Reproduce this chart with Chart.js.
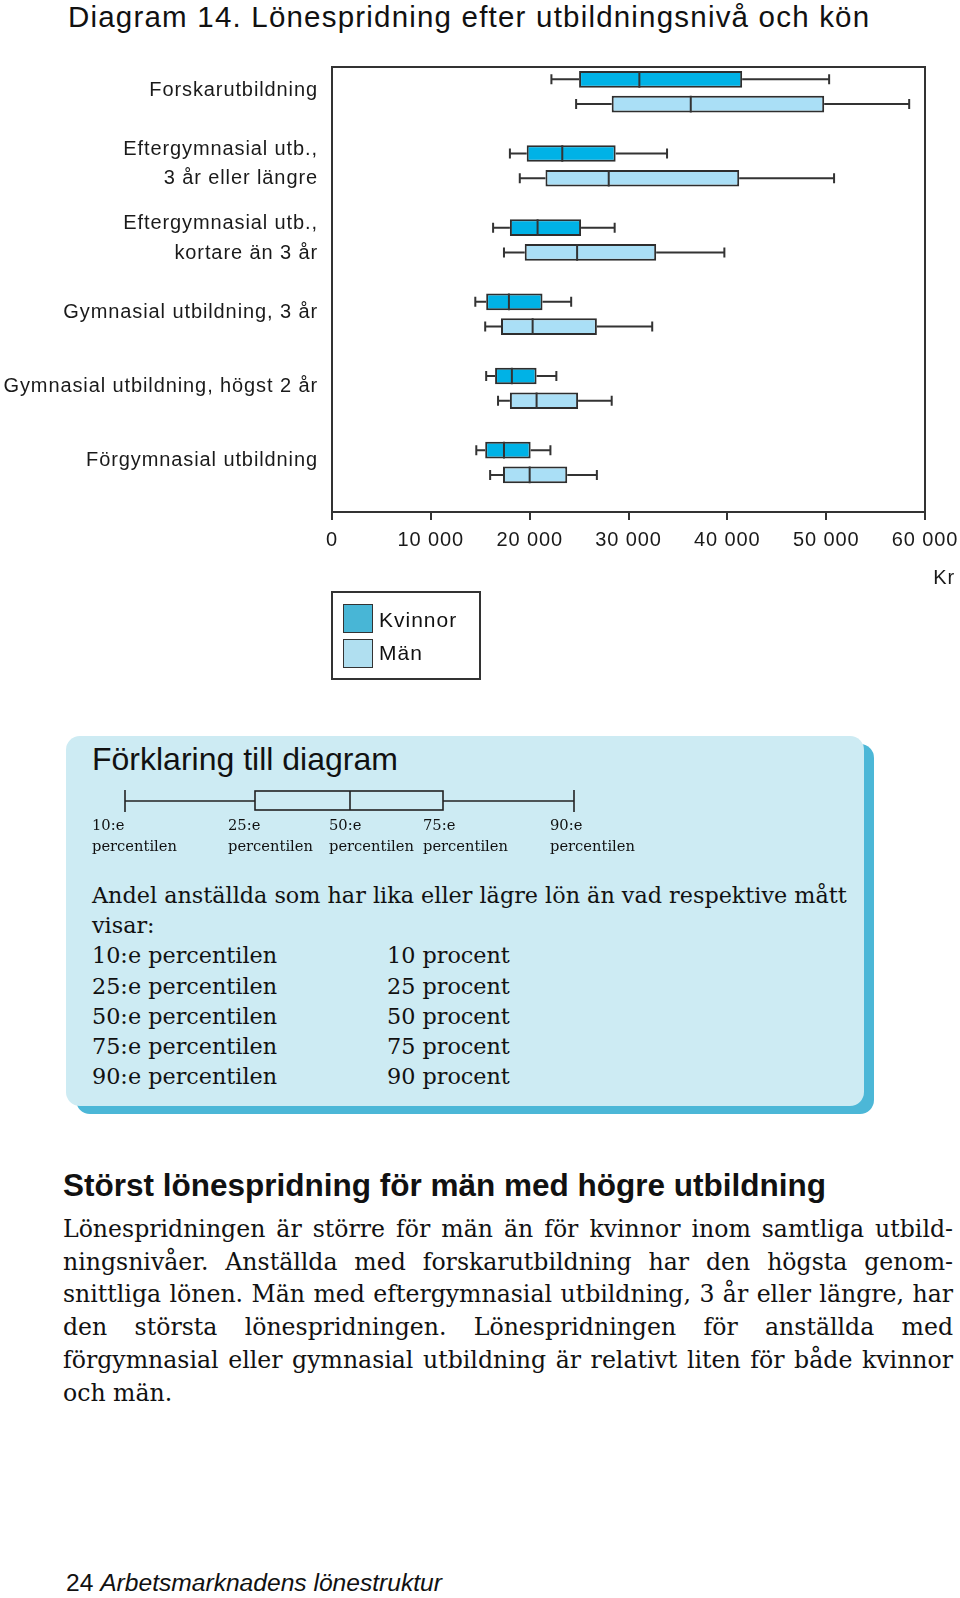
<!DOCTYPE html>
<html lang="sv">
<head>
<meta charset="utf-8">
<script src="https://cdn.jsdelivr.net/npm/chart.js@4.4.1/dist/chart.umd.min.js"></script>
<style>
  body { margin: 0; width: 960px; height: 1598px; position: relative; background: #fff; color: #111;
         font-family: "Liberation Sans", Arial, sans-serif; overflow: hidden; }
  .abs { position: absolute; white-space: nowrap; line-height: 1; }
  .serif { font-family: "DejaVu Serif", serif; }
  #title { left: 68px; top: 2px; font-size: 29.5px; letter-spacing: 1.2px; }
  #chartWrap { position: absolute; left: 0; top: 40px; width: 960px; height: 560px; }
  #legend { position: absolute; left: 331px; top: 591px; width: 150px; height: 89px; box-sizing: border-box;
            border: 2px solid #333; }
  .sw { position: absolute; left: 10px; width: 30px; height: 29px; box-sizing: border-box; border: 1.5px solid #333; }
  .lt { position: absolute; left: 46px; font-size: 21px; letter-spacing: 1px; line-height: 1; }
  #panel { position: absolute; left: 66px; top: 736px; width: 798px; height: 370px; border-radius: 14px;
           background: #cdebf3; box-shadow: 10px 8px 0 #4cb7d7; }
  .pl { position: absolute; font-size: 14.7px; line-height: 21px; white-space: nowrap; }
  #expl { position: absolute; left: 92px; top: 880px; font-size: 22.3px; line-height: 30.2px; }
  #expl2 { position: absolute; left: 387px; top: 940.4px; font-size: 22.3px; line-height: 30.2px; }
  #heading { left: 63px; top: 1170px; font-size: 31.5px; font-weight: bold; }
  #para { position: absolute; left: 63px; top: 1213px; width: 890px; font-size: 23.6px; line-height: 32.7px; }
  #para div { white-space: nowrap; text-align: justify; text-align-last: justify; }
  #para div.last { text-align-last: left; }
  #footer { left: 66px; top: 1571px; font-size: 24.6px; }
</style>
</head>
<body>
<div id="title" class="abs">Diagram 14. Lönespridning efter utbildningsnivå och kön</div>

<div id="chartWrap"><canvas id="boxChart"></canvas></div>

<div id="legend">
  <div class="sw" style="top:11px; background:#48b6d6;"></div>
  <div class="lt" style="top:16px;">Kvinnor</div>
  <div class="sw" style="top:46px; background:#b0dff0;"></div>
  <div class="lt" style="top:49px;">Män</div>
</div>

<div id="panel"></div>
<div class="abs" style="left:92px; top:743px; font-size:32px;">Förklaring till diagram</div>
<svg style="position:absolute; left:0; top:0;" width="960" height="830">
  <g stroke="#222" stroke-width="1.6" fill="none">
    <line x1="125" y1="801" x2="255" y2="801"/>
    <line x1="443" y1="801" x2="574" y2="801"/>
    <line x1="125" y1="790" x2="125" y2="812"/>
    <line x1="574" y1="790" x2="574" y2="812"/>
    <rect x="255" y="791" width="188" height="19"/>
    <line x1="350" y1="791" x2="350" y2="810"/>
  </g>
</svg>
<div class="pl serif" style="left:92px; top:814px;">10:e<br>percentilen</div>
<div class="pl serif" style="left:228px; top:814px;">25:e<br>percentilen</div>
<div class="pl serif" style="left:329px; top:814px;">50:e<br>percentilen</div>
<div class="pl serif" style="left:423px; top:814px;">75:e<br>percentilen</div>
<div class="pl serif" style="left:550px; top:814px;">90:e<br>percentilen</div>
<div id="expl" class="serif">Andel anställda som har lika eller lägre lön än vad respektive mått<br>visar:<br>10:e percentilen<br>25:e percentilen<br>50:e percentilen<br>75:e percentilen<br>90:e percentilen</div>
<div id="expl2" class="serif">10 procent<br>25 procent<br>50 procent<br>75 procent<br>90 procent</div>

<div id="heading" class="abs">Störst lönespridning för män med högre utbildning</div>
<div id="para" class="serif">
  <div>Lönespridningen är större för män än för kvinnor inom samtliga utbild-</div>
  <div>ningsnivåer. Anställda med forskarutbildning har den högsta genom-</div>
  <div>snittliga lönen. Män med eftergymnasial utbildning, 3 år eller längre, har</div>
  <div>den största lönespridningen. Lönespridningen för anställda med</div>
  <div>förgymnasial eller gymnasial utbildning är relativt liten för både kvinnor</div>
  <div class="last">och män.</div>
</div>

<div id="footer" class="abs">24 <i>Arbetsmarknadens lönestruktur</i></div>

<script>
const categories = [
    'Forskarutbildning',
    ['Eftergymnasial utb.,', '3 år eller längre'],
    ['Eftergymnasial utb.,', 'kortare än 3 år'],
    'Gymnasial utbildning, 3 år',
    'Gymnasial utbildning, högst 2 år',
    'Förgymnasial utbildning'
];

// percentiler, kr per månad
const kvinnorP10 = [22200, 18000, 16300, 14500, 15600, 14600];
const kvinnorP25 = [25000, 19700, 18000, 15600, 16500, 15500];
const kvinnorP50 = [31100, 23300, 20800, 17900, 18200, 17400];
const kvinnorP75 = [41500, 28700, 25200, 21300, 20700, 20100];
const kvinnorP90 = [50300, 33900, 28600, 24200, 22700, 22100];

const manP10 = [24700, 19000, 17400, 15500, 16800, 16000];
const manP25 = [28300, 21600, 19500, 17100, 18000, 17300];
const manP50 = [36300, 28000, 24800, 20300, 20700, 20000];
const manP75 = [49800, 41200, 32800, 26800, 24900, 23800];
const manP90 = [58400, 50800, 39700, 32400, 28300, 26800];

const xTickLabels = ['0', '10 000', '20 000', '30 000', '40 000', '50 000', '60 000'];

const axisFont = "'Liberation Sans', Arial, sans-serif";

// whiskers och median ritas ovanpå staplarna (lådorna)
const boxPlotPlugin = {
    id: 'boxPlot',
    afterDatasetsDraw(chart) {
        const ctx = chart.ctx;
        const xScale = chart.scales.x;
        ctx.save();
        ctx.strokeStyle = '#333';
        ctx.lineWidth = 2;
        chart.data.datasets.forEach((ds, di) => {
            if (!ds.median) return;
            const meta = chart.getDatasetMeta(di);
            meta.data.forEach((bar, i) => {
                const { y, height } = bar.getProps(['y', 'height'], true);
                const pLow = xScale.getPixelForValue(ds.low[i]);
                const pQ1 = xScale.getPixelForValue(ds.data[i][0]);
                const pMed = xScale.getPixelForValue(ds.median[i]);
                const pQ3 = xScale.getPixelForValue(ds.data[i][1]);
                const pHigh = xScale.getPixelForValue(ds.high[i]);
                const cap = height * 0.3;

                ctx.beginPath();
                ctx.moveTo(pLow, y); ctx.lineTo(pQ1, y);
                ctx.moveTo(pQ3, y); ctx.lineTo(pHigh, y);
                ctx.moveTo(pLow, y - cap); ctx.lineTo(pLow, y + cap);
                ctx.moveTo(pHigh, y - cap); ctx.lineTo(pHigh, y + cap);
                ctx.moveTo(pMed, y - height / 2); ctx.lineTo(pMed, y + height / 2);
                ctx.stroke();
            });
        });
        ctx.restore();
    }
};

const framePlugin = {
    id: 'frame',
    beforeDraw(chart) {
        chart.ctx.letterSpacing = '0.9px';
    },
    afterDraw(chart) {
        const { ctx, chartArea } = chart;
        ctx.save();
        ctx.strokeStyle = '#333';
        ctx.lineWidth = 2;
        ctx.strokeRect(chartArea.left, chartArea.top, chartArea.right - chartArea.left, chartArea.bottom - chartArea.top);

        // enhet under axeln
        ctx.font = '20px ' + axisFont;
        ctx.fillStyle = '#1a1a1a';
        ctx.textAlign = 'right';
        ctx.textBaseline = 'middle';
        ctx.fillText('Kr', 955, 538);
        ctx.restore();
        ctx.letterSpacing = '0px';
    }
};

const ctx = document.getElementById('boxChart').getContext('2d');

new Chart(ctx, {
    type: 'bar',
    data: {
        labels: categories,
        datasets: [
            {
                label: 'Kvinnor',
                data: kvinnorP25.map((v, i) => [v, kvinnorP75[i]]),
                median: kvinnorP50,
                low: kvinnorP10,
                high: kvinnorP90,
                backgroundColor: '#00b2e6',
                borderColor: '#2e2e2e',
                borderWidth: 2,
                borderSkipped: false
            },
            {
                label: 'Män',
                data: manP25.map((v, i) => [v, manP75[i]]),
                median: manP50,
                low: manP10,
                high: manP90,
                backgroundColor: '#aadff6',
                borderColor: '#2e2e2e',
                borderWidth: 2,
                borderSkipped: false
            },
            {
                // tom plats mellan grupperna
                label: '',
                data: categories.map(() => null),
                backgroundColor: 'rgba(0,0,0,0)',
                borderWidth: 0
            }
        ]
    },
    options: {
        indexAxis: 'y',
        responsive: true,
        maintainAspectRatio: false,
        animation: false,
        categoryPercentage: 1,
        barPercentage: 0.675,
        layout: { padding: { left: 0, right: 35, top: 27, bottom: 0 } },
        plugins: {
            legend: { display: false },
            tooltip: { enabled: false }
        },
        scales: {
            x: {
                type: 'linear',
                min: 0,
                max: 60000,
                border: { display: false },
                grid: { drawOnChartArea: false, drawTicks: true, tickLength: 8, color: '#333', lineWidth: 2 },
                ticks: {
                    stepSize: 10000,
                    autoSkip: false,
                    maxRotation: 0,
                    padding: 8,
                    color: '#1a1a1a',
                    font: { family: axisFont, size: 20 },
                    callback: (value, index) => xTickLabels[index]
                },
                afterFit(scale) {
                    scale.height = 88;
                    scale.paddingLeft = 0;
                    scale.paddingRight = 0;
                }
            },
            y: {
                type: 'category',
                offset: true,
                border: { display: false },
                grid: { display: false, drawTicks: false },
                ticks: {
                    autoSkip: false,
                    padding: 14,
                    labelOffset: -14,
                    color: '#1a1a1a',
                    font: { family: axisFont, size: 20, lineHeight: 1.47 }
                },
                afterFit(scale) {
                    scale.width = 332;
                    scale.paddingTop = 0;
                    scale.paddingBottom = 0;
                }
            }
        }
    },
    plugins: [boxPlotPlugin, framePlugin]
});
</script>
</body>
</html>
